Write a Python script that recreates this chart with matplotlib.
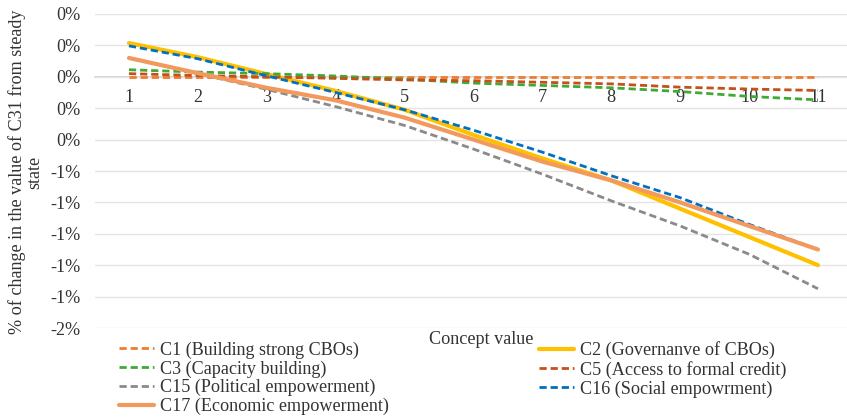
import matplotlib
matplotlib.use("Agg")
import matplotlib.pyplot as plt
import numpy as np

plt.rcParams['font.family'] = ['Liberation Serif', 'DejaVu Serif']

# concept values on the x axis
concept = [1, 2, 3, 4, 5, 6, 7, 8, 9, 10, 11]

# change in C31 (fraction) for each concept
c1 = [0.0, 0.0, 0.0, 0.0, 0.0, 0.0, 0.0, 0.0, 0.0, 0.0, 0.0]
c2 = [0.00215, 0.00125, 0.00017, -0.0009, -0.0021, -0.0037, -0.0052, -0.0066, -0.0084, -0.0102, -0.0120]
c3 = [0.00045, 0.0003, 0.0002, 0.00005, -0.00015, -0.0004, -0.00055, -0.0007, -0.00094, -0.00125, -0.00147]
c5 = [0.0002, 0.00008, 0.0, -0.0001, -0.0002, -0.00025, -0.00035, -0.00045, -0.00066, -0.00078, -0.00087]
c15 = [0.0012, 0.0002, -0.0008, -0.0019, -0.0031, -0.0046, -0.0062, -0.0079, -0.0095, -0.0113, -0.0135]
c16 = [0.00197, 0.00115, 0.00006, -0.001, -0.0021, -0.0034, -0.0048, -0.0063, -0.0077, -0.0094, -0.0110]
c17 = [0.0012, 0.00023, -0.0007, -0.0015, -0.0026, -0.0040, -0.0054, -0.0066, -0.0080, -0.0095, -0.0110]

names = ["C1 (Building strong CBOs)", "C2 (Governanve of CBOs)", "C3 (Capacity building)",
         "C5 (Access to formal credit)", "C15 (Political empowerment)",
         "C16 (Social empowrment)", "C17 (Economic empowerment)"]

yticks = [0.004, 0.002, 0.0, -0.002, -0.004, -0.006, -0.008, -0.010, -0.012, -0.014, -0.016]
ytick_labels = ['0%', '0%', '0%', '0%', '0%', '-1%', '-1%', '-1%', '-1%', '-1%', '-2%']

W, H = 847, 419
FS = 13.1
fig = plt.figure(figsize=(W / 100, H / 100), dpi=100)
ax = fig.add_axes([94.5 / W, 1 - 328 / H, (847 - 94.5) / W, (328 - 14) / H])

dash = (2.6, 1.4)
series = [
    (c1, '#ED7D31', 2.0, dash),
    (c2, '#FFC000', 3.0, None),
    (c3, '#3FAA35', 2.0, dash),
    (c5, '#C4501A', 2.0, dash),
    (c15, '#8A8A8A', 2.0, dash),
    (c16, '#0070C0', 2.0, dash),
    (c17, '#F29A5E', 3.0, None),
]
lines = []
for (vals, col, lw, ds), nm in zip(series, names):
    if ds:
        l, = ax.plot(concept, vals, color=col, lw=lw, dashes=ds, label=nm)
    else:
        l, = ax.plot(concept, vals, color=col, lw=lw, label=nm, solid_capstyle='round')
    lines.append(l)

ax.set_xlim(0.5, 1 + (847 - 129) / 68.9)
ax.set_ylim(-0.016, 0.004)
ax.set_yticks(yticks)
ax.set_yticklabels(ytick_labels)
ax.set_xticks(concept)
ax.set_xticklabels([str(c) for c in concept])
ax.grid(axis='y', color='#e4e4e4', lw=1)
ax.set_axisbelow(True)
for s in ['top', 'right', 'left']:
    ax.spines[s].set_visible(False)
ax.spines['bottom'].set_position(('data', 0))
ax.spines['bottom'].set_color('#d0d0d0')
ax.spines['bottom'].set_linewidth(1.2)
ax.spines['bottom'].set_zorder(0.5)
ax.tick_params(axis='y', length=0, pad=10, labelsize=FS, labelcolor='#333333')
ax.tick_params(axis='x', length=0, pad=9, labelsize=FS, labelcolor='#333333')

fig.text(26 / W, 1 - 172 / H, "% of change in the value of C31 from steady\nstate",
         rotation=90, ha='center', va='center', multialignment='center',
         fontsize=FS, color='#333333', linespacing=1.0)
fig.text(481 / W, 1 - 340 / H, "Concept value", ha='center', va='center',
         fontsize=FS, color='#333333')

col1 = [lines[0], lines[2], lines[4], lines[6]]
col2 = [lines[1], lines[3], lines[5]]
kw = dict(frameon=False, fontsize=FS, handlelength=1.95, handletextpad=0.3,
          labelspacing=0.08, borderpad=0, borderaxespad=0, loc='upper left')
leg1 = fig.legend(col1, [l.get_label() for l in col1],
                  bbox_to_anchor=(119 / W, 1 - 341.5 / H), **kw)
leg2 = fig.legend(col2, [l.get_label() for l in col2],
                  bbox_to_anchor=(539 / W, 1 - 341.5 / H), **kw)
for lg in (leg1, leg2):
    for t in lg.get_texts():
        t.set_color('#333333')

fig.savefig("out.png", dpi=100, facecolor='white')
